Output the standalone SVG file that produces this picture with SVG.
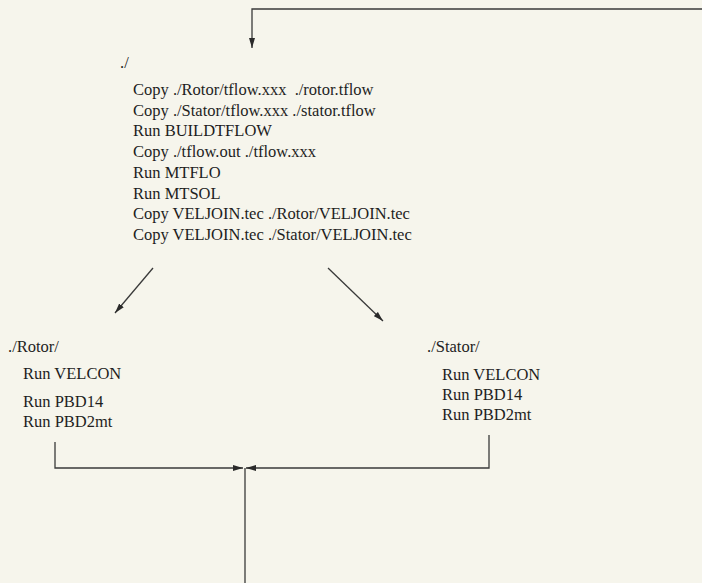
<svg xmlns="http://www.w3.org/2000/svg" width="702" height="583" viewBox="0 0 702 583">
<style>
.t{font-family:"Liberation Serif","Times New Roman",serif;font-size:16.5px;fill:#1e1e1e}
.c{stroke:#3a3a3a;stroke-width:1.3;fill:none}
</style>
<defs>
<marker id="ah" viewBox="0 0 10 6" refX="10" refY="3" markerWidth="10" markerHeight="6" markerUnits="userSpaceOnUse" orient="auto">
<path d="M0,0 L10,3 L0,6 Z" fill="#2a2a2a"/>
</marker>
</defs>
<rect width="702" height="583" fill="#f6f5ec"/>
<g id="connectors">
<path class="c" d="M702,9 H252 V48" marker-end="url(#ah)"/>
<path class="c" d="M153,268 L115,313" marker-end="url(#ah)"/>
<path class="c" d="M328,268 L383,321" marker-end="url(#ah)"/>
<path class="c" d="M55,442 V468 H243" marker-end="url(#ah)"/>
<path class="c" d="M489,435 V468 H246" marker-end="url(#ah)"/>
<path class="c" d="M245,468 V583"/>
</g>
<g id="main">
<text class="t" x="120" y="68">./</text>
<text class="t" x="133" y="95" xml:space="preserve">Copy ./Rotor/tflow.xxx  ./rotor.tflow</text>
<text class="t" x="133" y="115.7">Copy ./Stator/tflow.xxx ./stator.tflow</text>
<text class="t" x="133" y="136.4">Run BUILDTFLOW</text>
<text class="t" x="133" y="157.1">Copy ./tflow.out ./tflow.xxx</text>
<text class="t" x="133" y="177.9">Run MTFLO</text>
<text class="t" x="133" y="198.6">Run MTSOL</text>
<text class="t" x="133" y="219.3">Copy VELJOIN.tec ./Rotor/VELJOIN.tec</text>
<text class="t" x="133" y="240">Copy VELJOIN.tec ./Stator/VELJOIN.tec</text>
</g>
<g id="rotor">
<text class="t" x="8" y="352">./Rotor/</text>
<text class="t" x="23" y="379">Run VELCON</text>
<text class="t" x="23" y="407">Run PBD14</text>
<text class="t" x="23" y="427">Run PBD2mt</text>
</g>
<g id="stator">
<text class="t" x="427" y="352">./Stator/</text>
<text class="t" x="442" y="380">Run VELCON</text>
<text class="t" x="442" y="400">Run PBD14</text>
<text class="t" x="442" y="420">Run PBD2mt</text>
</g>
</svg>
